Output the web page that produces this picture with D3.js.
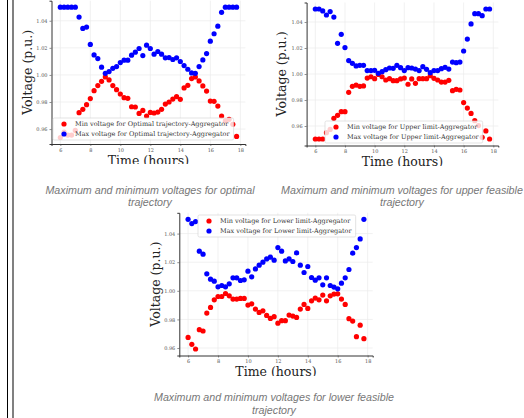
<!DOCTYPE html>
<html>
<head>
<meta charset="utf-8">
<script src="https://cdn.jsdelivr.net/npm/d3@7"></script>
<style>
  html, body { margin: 0; padding: 0; background: #fff; }
  svg { display: block; }
  .tick text { font-family: "DejaVu Serif", serif; font-size: 5px; fill: #555; }
  .tick line { stroke: #444; stroke-width: 0.6; }
  .domain { stroke: #333; stroke-width: 1; }
  .grid line { stroke: #ebebeb; stroke-width: 0.7; }
  .label { font-family: "DejaVu Serif", serif; font-size: 12.5px; fill: #222; }
  .legend-text { font-family: "DejaVu Serif", serif; font-size: 6.5px; fill: #333; }
  .caption { font-family: "Liberation Sans", Arial, sans-serif; font-style: italic; font-size: 10.7px; fill: #777; }
</style>
</head>
<body>
<div class="chart"></div>
<script>
// time of day, 15 minute steps
const hours = [6, 6.25, 6.5, 6.75, 7, 7.25, 7.5, 7.75, 8, 8.25, 8.5, 8.75,
    9, 9.25, 9.5, 9.75, 10, 10.25, 10.5, 10.75, 11, 11.25, 11.5, 11.75,
    12, 12.25, 12.5, 12.75, 13, 13.25, 13.5, 13.75, 14, 14.25, 14.5, 14.75,
    15, 15.25, 15.5, 15.75, 16, 16.25, 16.5, 16.75, 17, 17.25, 17.5, 17.75];

const optimalMin = [0.9538, 0.9578, 0.9556, 0.9556, 0.959, 0.9721, 0.9746, 0.978, 0.9825, 0.9884, 0.9921, 0.9953,
    0.9985, 0.9963, 0.9921, 0.9891, 0.9859, 0.9832, 0.9827, 0.9765, 0.9763, 0.9716, 0.9738, 0.9696,
    0.9723, 0.9719, 0.9726, 0.9746, 0.9785, 0.98, 0.9822, 0.984, 0.982, 0.9904, 0.9923, 0.9973,
    0.9985, 0.9956, 0.9919, 0.9881, 0.9807, 0.9805, 0.977, 0.9696, 0.966, 0.9672, 0.9635, 0.9546];
const optimalMax = [1.05, 1.05, 1.05, 1.05, 1.05, 1.0427, 1.0343, 1.0353, 1.0225, 1.0148, 1.0121, 1.0057,
    1.0012, 1.0025, 1.0049, 1.0062, 1.0091, 1.0109, 1.0109, 1.0146, 1.0168, 1.0195, 1.0143, 1.022,
    1.0195, 1.0153, 1.0173, 1.0153, 1.0126, 1.0128, 1.0114, 1.0126, 1.0099, 1.0069, 1.0042, 1.0015,
    1.0012, 1.0062, 1.0111, 1.0158, 1.0249, 1.0304, 1.036, 1.0462, 1.05, 1.05, 1.05, 1.05];

const upperMin = [0.95, 0.95, 0.95, 0.9549, 0.9574, 0.9659, 0.9682, 0.971, 0.971, 0.9859, 0.9905, 0.9915,
    0.9905, 0.9908, 0.9969, 0.9979, 0.9964, 0.9997, 0.9979, 0.9954, 0.9964, 0.9949, 0.9949, 0.9962,
    0.9969, 0.9921, 0.9962, 0.9928, 0.9964, 0.9964, 0.9964, 0.9987, 0.9967, 0.9954, 0.9938, 0.9938,
    0.9951, 0.9872, 0.9882, 0.9877, 0.978, 0.9738, 0.9697, 0.9641, 0.9603, 0.9513, 0.9562, 0.95];
const upperMax = [1.05, 1.05, 1.0485, 1.0454, 1.048, 1.0438, 1.0236, 1.0305, 1.0203, 1.0103, 1.0082, 1.0062,
    1.0067, 1.0067, 1.0026, 1.0026, 1.0028, 1.0005, 1.0018, 1.0033, 1.0046, 1.0044, 1.0067, 1.0049,
    1.0026, 1.0049, 1.0046, 1.0038, 1.0026, 1.0056, 1.0036, 1.001, 1.0026, 1.0026, 1.0041, 1.0051,
    1.0038, 1.0092, 1.0087, 1.0092, 1.0177, 1.0269, 1.0385, 1.0464, 1.0464, 1.0449, 1.05, 1.05];

const lowerMin = [0.9674, 0.9626, 0.9593, 0.9728, 0.9719, 0.9844, 0.9884, 0.9937, 0.996, 0.996, 0.9981, 0.9965,
    0.9942, 0.9942, 0.9947, 0.9947, 0.99, 0.9909, 0.9872, 0.9849, 0.986, 0.9828, 0.9807, 0.9819,
    0.9774, 0.9791, 0.9791, 0.983, 0.9823, 0.9814, 0.9872, 0.9905, 0.9877, 0.993, 0.9949, 0.9937,
    0.997, 0.993, 0.9965, 0.9977, 0.9979, 0.9942, 0.9905, 0.9805, 0.9788, 0.9679, 0.976, 0.9665];
const lowerMax = [1.05, 1.047, 1.0484, 1.0277, 1.0256, 1.0119, 1.0081, 1.0067, 1.0028, 1.0037, 1.0028, 1.0049,
    1.0091, 1.0091, 1.0072, 1.0077, 1.0137, 1.0098, 1.0153, 1.0179, 1.02, 1.0223, 1.0235, 1.0214,
    1.0302, 1.0277, 1.0209, 1.0223, 1.0205, 1.0265, 1.0179, 1.0128, 1.017, 1.0093, 1.0074, 1.0091,
    1.0042, 1.0091, 1.0037, 1.0026, 1.0014, 1.0053, 1.0091, 1.0149, 1.0263, 1.0302, 1.0363, 1.05];

const xTicks = [6, 8, 10, 12, 14, 16, 18];
const yTicks = [0.96, 0.98, 1.00, 1.02, 1.04];

const seriesNames = [
    ["Min voltage for Optimal trajectory-Aggregator", "Max voltage for Optimal trajectory-Aggregator"],
    ["Min voltage for Upper limit-Aggregator", "Max voltage for Upper limit-Aggregator"],
    ["Min voltage for Lower limit-Aggregator", "Max voltage for Lower limit-Aggregator"]
];
const captions = [
    ["Maximum and minimum voltages for optimal", "trajectory"],
    ["Maximum and minimum voltages for upper feasible", "trajectory"],
    ["Maximum and minimum voltages for lower feasible", "trajectory"]
];

const w = 524, h = 418;
const colors = ["#ff0000", "#0000ff"];

// layout of each figure on the page
const panels = [
    { min: optimalMin, max: optimalMax, xr: [51.5, 245.4], yr: [144, 0.7], legend: [53, 118],
      ylabX: 31.8, xlabY: 164.5, clipY: 164, capX: 150, capY: 193.5 },
    { min: upperMin, max: upperMax, xr: [306.6, 498.3], yr: [145.5, 2.5], legend: [325, 121],
      ylabX: 286.1, xlabY: 166, clipY: 166, capX: 402, capY: 193.5 },
    { min: lowerMin, max: lowerMax, xr: [179.3, 372.7], yr: [355.5, 212.8], legend: [198, 215],
      ylabX: 159.8, xlabY: 376, clipY: 376, capX: 274, capY: 401 }
];

const svg = d3.select(".chart").append("svg")
    .attr("width", w)
    .attr("height", h);

// page borders on the left
svg.append("line").attr("x1", 7.5).attr("x2", 7.5).attr("y1", 0).attr("y2", h)
    .attr("stroke", "#000").attr("stroke-width", 1);
svg.append("line").attr("x1", 13).attr("x2", 13).attr("y1", 0).attr("y2", h)
    .attr("stroke", "#808080").attr("stroke-width", 2);

panels.forEach((p, i) => {
    const all = p.min.concat(p.max);
    const lo = d3.min(all), hi = d3.max(all);
    const ym = (hi - lo) * 0.05;
    const xm = (d3.max(hours) - d3.min(hours)) * 0.05;

    const x = d3.scaleLinear().domain([d3.min(hours) - xm, d3.max(hours) + xm]).range(p.xr);
    const y = d3.scaleLinear().domain([lo - ym, hi + ym]).range(p.yr);

    svg.append("clipPath").attr("id", "clip" + i)
        .append("rect").attr("x", 0).attr("y", 0).attr("width", w).attr("height", p.clipY);

    const g = svg.append("g").attr("clip-path", `url(#clip${i})`);

    // grid
    const grid = g.append("g").attr("class", "grid");
    grid.selectAll(".gx").data(xTicks).enter().append("line")
        .attr("x1", d => x(d)).attr("x2", d => x(d))
        .attr("y1", p.yr[0]).attr("y2", p.yr[1]);
    grid.selectAll(".gy").data(yTicks).enter().append("line")
        .attr("x1", p.xr[0]).attr("x2", p.xr[1])
        .attr("y1", d => y(d)).attr("y2", d => y(d));

    // points
    [p.min, p.max].forEach((vals, k) => {
        g.append("g").selectAll("circle")
            .data(vals)
            .enter().append("circle")
            .attr("cx", (d, j) => x(hours[j]))
            .attr("cy", d => y(d))
            .attr("r", 2.6)
            .attr("fill", colors[k]);
    });

    // axes
    g.append("g")
        .attr("transform", `translate(0,${p.yr[0]})`)
        .call(d3.axisBottom(x).tickValues(xTicks).tickSize(2).tickPadding(2).tickFormat(d3.format("d")));
    g.append("g")
        .attr("transform", `translate(${p.xr[0]},0)`)
        .call(d3.axisLeft(y).tickValues(yTicks).tickSize(2).tickPadding(2).tickFormat(d3.format(".2f")));

    // legend
    const lg = g.append("g").attr("transform", `translate(${p.legend[0]},${p.legend[1]})`);
    const box = lg.append("rect")
        .attr("height", 22).attr("rx", 1.5)
        .attr("fill", "#fff").attr("fill-opacity", 0.8)
        .attr("stroke", "#d0d0d0").attr("stroke-width", 0.6);
    let tl = 0;
    seriesNames[i].forEach((name, k) => {
        lg.append("circle").attr("cx", 11).attr("cy", 6 + k * 10).attr("r", 2.6).attr("fill", colors[k]);
        const t = lg.append("text").attr("class", "legend-text")
            .attr("x", 22).attr("y", 6 + k * 10).attr("dy", "0.35em").text(name);
        tl = Math.max(tl, t.node().getComputedTextLength());
    });
    box.attr("width", 22 + tl + 4);

    // axis titles
    g.append("text").attr("class", "label")
        .attr("transform", `translate(${p.ylabX},${(p.yr[0] + p.yr[1]) / 2}) rotate(-90)`)
        .attr("text-anchor", "middle")
        .text("Voltage (p.u.)");
    g.append("text").attr("class", "label")
        .attr("x", (p.xr[0] + p.xr[1]) / 2).attr("y", p.xlabY)
        .attr("text-anchor", "middle")
        .text("Time (hours)");

    // caption
    captions[i].forEach((line, k) => {
        svg.append("text").attr("class", "caption")
            .attr("x", p.capX).attr("y", p.capY + k * 12.7)
            .attr("text-anchor", "middle")
            .text(line);
    });
});
</script>
</body>
</html>
